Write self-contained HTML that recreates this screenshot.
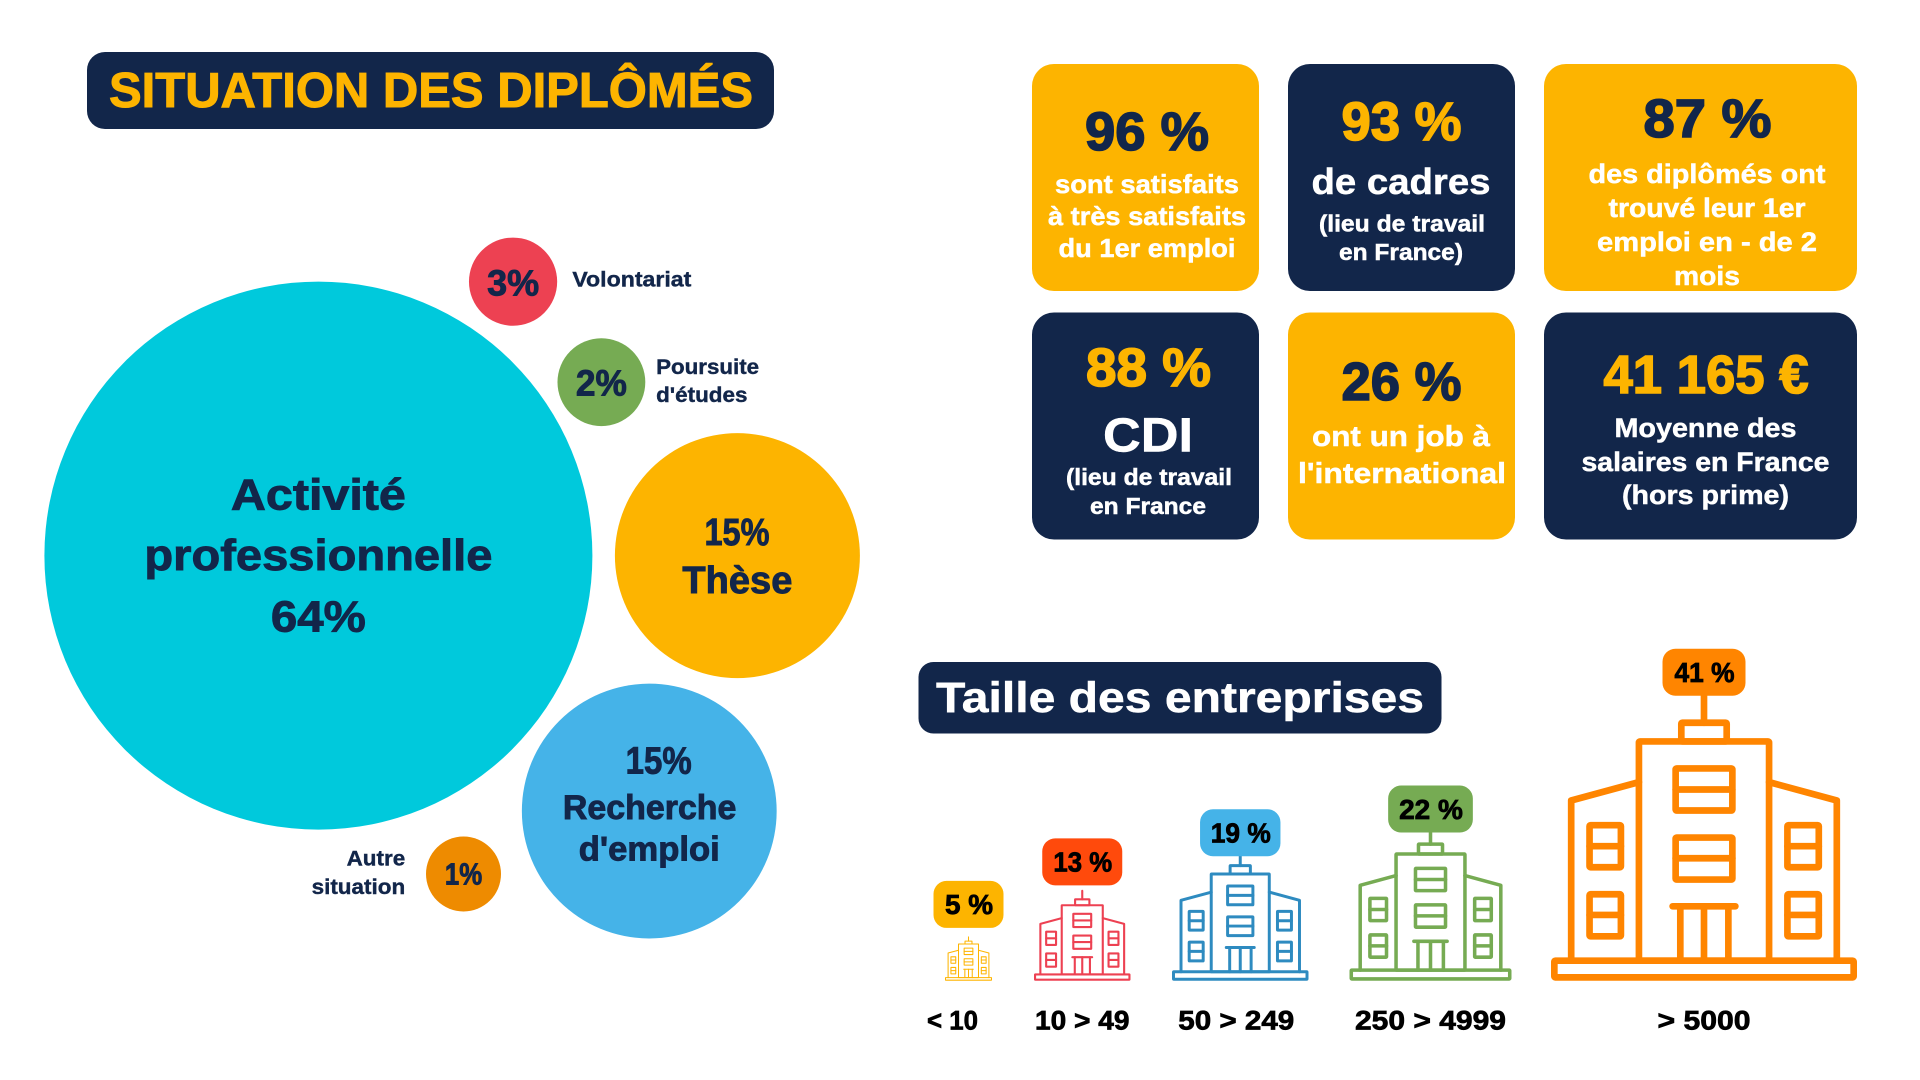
<!DOCTYPE html>
<html lang="fr">
<head>
<meta charset="utf-8">
<title>Situation des diplômés</title>
<style>
html,body{margin:0;padding:0;background:#fff;width:1920px;height:1080px;overflow:hidden}
svg{display:block}
text{font-family:"Liberation Sans",sans-serif;font-weight:700;text-anchor:middle}
.navy{fill:#12264a}.yellow{fill:#fdb400}.white{fill:#fff}
.b1{stroke-width:.5px;paint-order:stroke}
.big{stroke-width:1.6px;font-size:54px}
.navy.big{stroke:#12264a}.yellow.big{stroke:#fdb400}
.white.b1{stroke:#fff}
</style>
</head>
<body>
<svg id="page" width="1920" height="1080" viewBox="0 0 1920 1080" xmlns="http://www.w3.org/2000/svg">
  <rect width="1920" height="1080" fill="#fff"/>

  <g>
    <rect x="87" y="52" width="687" height="77" rx="18" fill="#12264a"/>
    <text class="yellow" x="431" y="107" font-size="49" textLength="644" lengthAdjust="spacingAndGlyphs" stroke="#fdb400" stroke-width="1">SITUATION DES DIPLÔMÉS</text>
  </g>

  <g id="bubbles"></g>

  <g>
    <rect x="1032" y="64" width="227" height="227" rx="22" fill="#fdb400"/>
    <text class="navy big" x="1147" y="150" textLength="124" lengthAdjust="spacingAndGlyphs">96 %</text>
    <text class="white b1" x="1147" y="193" font-size="26" textLength="184" lengthAdjust="spacingAndGlyphs">sont satisfaits</text>
    <text class="white b1" x="1147" y="225" font-size="26" textLength="198" lengthAdjust="spacingAndGlyphs">à très satisfaits</text>
    <text class="white b1" x="1147" y="257" font-size="26" textLength="177" lengthAdjust="spacingAndGlyphs">du 1er emploi</text>
  </g>
  <g>
    <rect x="1288" y="64" width="227" height="227" rx="22" fill="#12264a"/>
    <text class="yellow big" x="1401.5" y="140" textLength="120" lengthAdjust="spacingAndGlyphs">93 %</text>
    <text class="white b1" x="1401" y="194" font-size="36" textLength="179" lengthAdjust="spacingAndGlyphs">de cadres</text>
    <text class="white b1" x="1402" y="231.5" font-size="23" textLength="166" lengthAdjust="spacingAndGlyphs">(lieu de travail</text>
    <text class="white b1" x="1401" y="260" font-size="23" textLength="124" lengthAdjust="spacingAndGlyphs">en France)</text>
  </g>
  <g>
    <rect x="1544" y="64" width="313" height="227" rx="22" fill="#fdb400"/>
    <text class="navy big" x="1707.5" y="137" textLength="128" lengthAdjust="spacingAndGlyphs">87 %</text>
    <text class="white b1" x="1707" y="183" font-size="27" textLength="237" lengthAdjust="spacingAndGlyphs">des diplômés ont</text>
    <text class="white b1" x="1707" y="217" font-size="27" textLength="197" lengthAdjust="spacingAndGlyphs">trouvé leur 1er</text>
    <text class="white b1" x="1707" y="251" font-size="27" textLength="220" lengthAdjust="spacingAndGlyphs">emploi en - de 2</text>
    <text class="white b1" x="1707" y="285" font-size="27" textLength="66" lengthAdjust="spacingAndGlyphs">mois</text>
  </g>
  <g>
    <rect x="1032" y="312.5" width="227" height="227" rx="22" fill="#12264a"/>
    <text class="yellow big" x="1148.5" y="386" textLength="125" lengthAdjust="spacingAndGlyphs">88 %</text>
    <text class="white b1" x="1148" y="451.5" font-size="48" textLength="90" lengthAdjust="spacingAndGlyphs" stroke-width="1.2">CDI</text>
    <text class="white b1" x="1149" y="485" font-size="23" textLength="166" lengthAdjust="spacingAndGlyphs">(lieu de travail</text>
    <text class="white b1" x="1148" y="514" font-size="23" textLength="116" lengthAdjust="spacingAndGlyphs">en France</text>
  </g>
  <g>
    <rect x="1288" y="312.5" width="227" height="227" rx="22" fill="#fdb400"/>
    <text class="navy big" x="1401.5" y="400" textLength="120" lengthAdjust="spacingAndGlyphs">26 %</text>
    <text class="white b1" x="1401" y="446" font-size="29" textLength="178" lengthAdjust="spacingAndGlyphs">ont un job à</text>
    <text class="white b1" x="1402" y="483" font-size="29" textLength="208" lengthAdjust="spacingAndGlyphs">l'international</text>
  </g>
  <g>
    <rect x="1544" y="312.5" width="313" height="227" rx="22" fill="#12264a"/>
    <text class="yellow big" x="1706" y="393" textLength="205" lengthAdjust="spacingAndGlyphs">41 165 €</text>
    <text class="white b1" x="1705.5" y="437" font-size="27" textLength="182" lengthAdjust="spacingAndGlyphs">Moyenne des</text>
    <text class="white b1" x="1705.5" y="471" font-size="27" textLength="248" lengthAdjust="spacingAndGlyphs">salaires en France</text>
    <text class="white b1" x="1705.5" y="504" font-size="27" textLength="167" lengthAdjust="spacingAndGlyphs">(hors prime)</text>
  </g>

  <g>
    <rect x="918.5" y="662" width="523" height="71.5" rx="15" fill="#12264a"/>
    <text class="white b1" x="1180" y="712" font-size="43" textLength="488" lengthAdjust="spacingAndGlyphs">Taille des entreprises</text>
  </g>

  <g id="buildings"></g>
</svg>

<script>
/* ---------- bubble chart data ---------- */
const bubbleCategories = ['activite-professionnelle', 'volontariat', 'poursuite-etudes', 'these', 'recherche-emploi', 'autre-situation'];
const bubbleValues = [64, 3, 2, 15, 15, 1];
const bubbleColors = ['#00c9dc', '#ed4152', '#76ab53', '#fdb400', '#45b3e8', '#ee8b00'];

/* ---------- building chart data ---------- */
const sizeCategories = ['< 10', '10 > 49', '50 > 249', '250 > 4999', '> 5000'];
const sizeValues = [5, 13, 19, 22, 41];
const buildingColors = ['#fdb400', '#ed4152', '#2e8bc0', '#76ab53', '#ff8500'];
const badgeColors = ['#fdb400', '#ff4a0c', '#45b3e8', '#76ab53', '#ff8500'];

/* ---------- scales ---------- */
function piecewiseScale(domain, range) {
  return function (v) {
    let i = 0;
    while (i < domain.length - 2 && v > domain[i + 1]) i++;
    const t = (v - domain[i]) / (domain[i + 1] - domain[i]);
    return range[i] + t * (range[i + 1] - range[i]);
  };
}
const bubbleRadius = piecewiseScale([1, 2, 3, 15, 64], [37.5, 43.9, 44.1, 125, 274]);
const buildingWidth = piecewiseScale([5, 13, 19, 22, 41], [47, 96.5, 136.5, 162, 306]);

const NS = 'http://www.w3.org/2000/svg';
function mk(tag, attrs, parent) {
  const el = document.createElementNS(NS, tag);
  for (const k in attrs) el.setAttribute(k, attrs[k]);
  parent.appendChild(el);
  return el;
}

/* ---------- bubble layout: polar packing round the main bubble ---------- */
const packCentre = { x: 318.4, y: 555.6 };
const packAngle = [0, -54.6, -31.5, 0, 37.67, 65.5];
const packGap = [0, 17.95, 14, 22.5, 16.6, 38.4];
const radiusTrim = [0, 0, 0, -2.5, 2.4, 0];
const bubbleLabelRows = [
  [[null, 0, 75.9, 95, 44, 'middle'], ['Activité', 0, -46, 175, 44, 'middle'], ['professionnelle', 0, 14.4, 348, 44, 'middle']],
  [[null, 0, 13.8, 52, 36, 'middle'], ['Volontariat', 59.3, 4.8, 119, 21, 'start']],
  [[null, 0, 13.3, 51, 36, 'middle'], ['Poursuite', 54.7, -8, 103, 21, 'start'], ["d'études", 54.7, 20, 91.4, 21, 'start']],
  [[null, -0.4, -10.8, 65, 38, 'middle'], ['Thèse', 0, 37.4, 110, 38, 'middle']],
  [[null, 9.4, -37.6, 66, 38, 'middle'], ['Recherche', 0.4, 8.2, 173.5, 34, 'middle'], ["d'emploi", 0, 49.6, 141, 34, 'middle']],
  [[null, 0, 10.3, 37.3, 31, 'middle'], ['Autre', -58.3, -8.3, 58.6, 21, 'end'], ['situation', -58.3, 20, 93.6, 21, 'end']]
];

const bubbleRoot = document.getElementById('bubbles');
const mainR = bubbleRadius(bubbleValues[0]);
bubbleValues.forEach(function (v, i) {
  const r = bubbleRadius(v) + radiusTrim[i];
  const dist = i === 0 ? 0 : mainR + r + packGap[i];
  const a = packAngle[i] * Math.PI / 180;
  const cx = packCentre.x + dist * Math.cos(a);
  const cy = packCentre.y + dist * Math.sin(a);
  const g = mk('g', {}, bubbleRoot);
  
  
  const c = mk('circle', { cx: cx, cy: cy, r: r, fill: bubbleColors[i] }, g);
  
  
  bubbleLabelRows[i].forEach(function (row) {
    const t = mk('text', {
      x: cx + row[1], y: cy + row[2], 'font-size': row[4], fill: '#12264a',
      textLength: row[3], lengthAdjust: 'spacingAndGlyphs', style: 'text-anchor:' + row[5],
      stroke: '#12264a', 'stroke-width': row[4] > 25 ? 0.9 : 0.4
    }, g);
    
    
    t.textContent = row[0] === null ? v + '%' : row[0];
  });
});

/* ---------- building glyph (unit coordinates, origin bottom-centre, 917 wide) ---------- */
const UNIT_W = 917;
const ANTENNA_TOP = 854;
function drawBuilding(parent) {
  function rect(x, y, w, h) { mk('rect', { x: x, y: y, width: w, height: h, rx: 3 }, parent); }
  function line(x1, y1, x2, y2) { mk('line', { x1: x1, y1: y1, x2: x2, y2: y2 }, parent); }
  rect(-448.5, -60, 897, 50);
  rect(-195, -717, 390, 657);
  rect(-68, -773, 136, 56);
  line(0, -854, 0, -773);
  mk('polyline', { points: '-195,-595 -398,-540 -398,-60' }, parent);
  mk('polyline', { points: '195,-595 398,-540 398,-60' }, parent);
  [[-636, -573], [-429, -367]].forEach(function (p) {
    rect(-85, p[0], 170, 126);
    line(-85, p[1], 85, p[1]);
  });
  [-343, 250].forEach(function (x) {
    [[-466, -403], [-259, -197]].forEach(function (p) {
      rect(x, p[0], 94, 126);
      line(x, p[1], x + 94, p[1]);
    });
  });
  line(-94, -223, 94, -223);
  [-71, 0, 73].forEach(function (x) { line(x, -223, x, -60); });
}

/* ---------- building row: x band from cumulative widths ---------- */
const rowLeft = 945;
const rowGaps = [42, 41.5, 41, 39.5, 0];
const groundY = 980.7;
const tickY = 1029.3;
const tickNudge = [-16, 0, -4, 0, 0];
const tickWidth = [51, 94.5, 116, 151, 93];
const badgeWidth = [70, 80, 80.4, 84.7, 83];
const badgeTextWidth = [48, 58.7, 60, 63.8, 60];
const badgeGap = [9, 5.5, -2.7, -2.7, 0];
const BADGE_H = 47;

const buildingRoot = document.getElementById('buildings');
let cursor = rowLeft;
sizeValues.forEach(function (v, i) {
  const w = buildingWidth(v);
  const s = w / UNIT_W;
  const cx = cursor + w / 2;
  cursor += w + rowGaps[i];
  const g = mk('g', {}, buildingRoot);
  
  

  const icon = mk('g', {
    transform: 'translate(' + cx + ' ' + groundY + ') scale(' + s + ')',
    fill: 'none', stroke: buildingColors[i], 'stroke-width': 20,
    'stroke-linecap': 'round', 'stroke-linejoin': 'round'
  }, g);
  
  
  drawBuilding(icon);

  const badgeBottom = groundY - ANTENNA_TOP * s - badgeGap[i];
  const badge = mk('rect', {
    x: cx - badgeWidth[i] / 2, y: badgeBottom - BADGE_H,
    width: badgeWidth[i], height: BADGE_H, rx: 13, fill: badgeColors[i]
  }, g);
  
  

  const val = mk('text', {
    x: cx + 0.5, y: badgeBottom - 13.7, 'font-size': 28, fill: '#000', stroke: '#000', 'stroke-width': 0.8,
    textLength: badgeTextWidth[i], lengthAdjust: 'spacingAndGlyphs'
  }, g);
  
  
  val.textContent = v + ' %';

  const tick = mk('text', {
    x: cx + tickNudge[i], y: tickY, 'font-size': 27, fill: '#000', stroke: '#000', 'stroke-width': 0.7,
    textLength: tickWidth[i], lengthAdjust: 'spacingAndGlyphs'
  }, g);
  
  
  tick.textContent = sizeCategories[i];
});
</script>
</body>
</html>
